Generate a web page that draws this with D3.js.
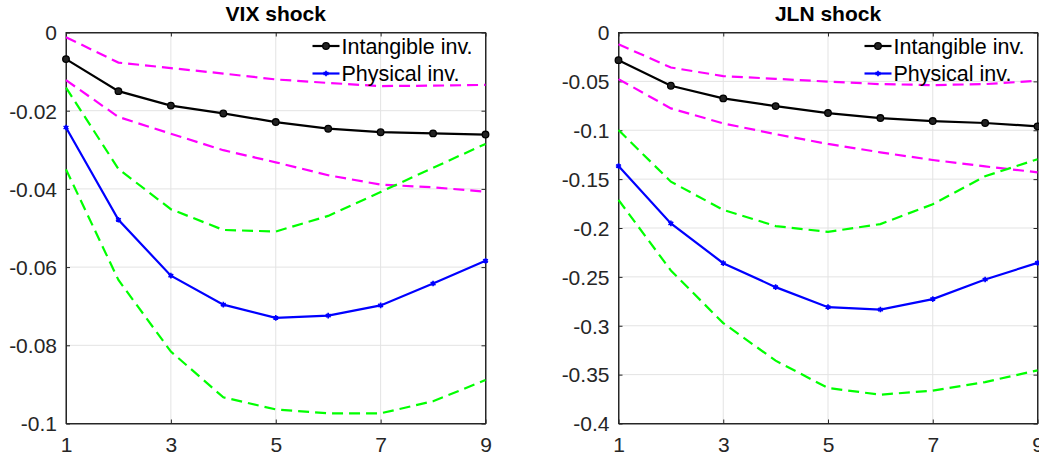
<!DOCTYPE html>
<html>
<head>
<meta charset="utf-8">
<script src="https://cdn.jsdelivr.net/npm/d3@7"></script>
<style>
  html, body { margin: 0; padding: 0; background: #fff; }
  svg { display: block; font-family: "Liberation Sans", Arial, Helvetica, sans-serif; }
</style>
</head>
<body>
<svg id="chart" width="1039" height="455"></svg>
<script>
// ---- data ----
const horizons = [1, 2, 3, 4, 5, 6, 7, 8, 9];
const xTicks = [1, 3, 5, 7, 9];

const vixIntangible      = [-0.0068, -0.0150, -0.0187, -0.0207, -0.0229, -0.0246, -0.0255, -0.0258, -0.0261];
const vixPhysical        = [-0.0243, -0.0479, -0.0622, -0.0696, -0.0730, -0.0724, -0.0698, -0.0642, -0.0584];
const vixIntangibleUpper = [-0.0012, -0.0077, -0.0091, -0.0105, -0.0120, -0.0129, -0.0137, -0.0136, -0.0134];
const vixIntangibleLower = [-0.0122, -0.0216, -0.0259, -0.0301, -0.0332, -0.0365, -0.0389, -0.0396, -0.0407];
const vixPhysicalUpper   = [-0.0141, -0.0349, -0.0452, -0.0505, -0.0509, -0.0469, -0.0408, -0.0346, -0.0285];
const vixPhysicalLower   = [-0.0350, -0.0633, -0.0816, -0.0933, -0.0964, -0.0974, -0.0974, -0.0943, -0.0889];
const vixYTicks = [0, -0.02, -0.04, -0.06, -0.08, -0.1];
const vixYTickLabels = ["0", "-0.02", "-0.04", "-0.06", "-0.08", "-0.1"];

const jlnIntangible      = [-0.0283, -0.0545, -0.0674, -0.0753, -0.0824, -0.0875, -0.0906, -0.0926, -0.0960];
const jlnPhysical        = [-0.1366, -0.1953, -0.2360, -0.2605, -0.2810, -0.2834, -0.2727, -0.2527, -0.2357];
const jlnIntangibleUpper = [-0.0120, -0.0358, -0.0446, -0.0474, -0.0502, -0.0528, -0.0538, -0.0528, -0.0494];
const jlnIntangibleLower = [-0.0477, -0.0776, -0.0930, -0.1040, -0.1140, -0.1226, -0.1304, -0.1370, -0.1430];
const jlnPhysicalUpper   = [-0.0998, -0.1526, -0.1815, -0.1980, -0.2040, -0.1960, -0.1757, -0.1470, -0.1297];
const jlnPhysicalLower   = [-0.1713, -0.2435, -0.2973, -0.3357, -0.3637, -0.3705, -0.3664, -0.3576, -0.3456];
const jlnYTicks = [0, -0.05, -0.1, -0.15, -0.2, -0.25, -0.3, -0.35, -0.4];
const jlnYTickLabels = ["0", "-0.05", "-0.1", "-0.15", "-0.2", "-0.25", "-0.3", "-0.35", "-0.4"];

const legendLabels = ["Intangible inv.", "Physical inv."];

// ---- drawing ----
const svg = d3.select("#chart");
const TXT = "#262626";

function panel(opts) {
  const { left, right, top, bottom, yMin, title, yTicks, yLabels, intang, phys, iu, il, pu, pl } = opts;
  const x = d3.scaleLinear().domain([1, 9]).range([left, right]);
  const y = d3.scaleLinear().domain([yMin, 0]).range([bottom, top]);
  const g = svg.append("g");

  // grid
  g.append("g").selectAll("line").data(xTicks).join("line")
    .attr("x1", d => x(d)).attr("x2", d => x(d)).attr("y1", top).attr("y2", bottom)
    .attr("stroke", "#e3e3e3").attr("stroke-width", 1);
  g.append("g").selectAll("line").data(yTicks).join("line")
    .attr("x1", left).attr("x2", right).attr("y1", d => y(d)).attr("y2", d => y(d))
    .attr("stroke", "#e3e3e3").attr("stroke-width", 1);

  // box
  g.append("rect").attr("x", left).attr("y", top).attr("width", right - left).attr("height", bottom - top)
    .attr("fill", "none").attr("stroke", TXT).attr("stroke-width", 1);

  // axes with inward ticks
  const tl = 4;
  const ax = d3.axisBottom(x).tickValues(xTicks).tickSizeInner(-tl).tickSizeOuter(0).tickPadding(14).tickFormat(d3.format("d"));
  const gx = g.append("g").attr("transform", `translate(0,${bottom})`).call(ax);
  const ay = d3.axisLeft(y).tickValues(yTicks).tickSizeInner(-tl).tickSizeOuter(0).tickPadding(9)
    .tickFormat((d, i) => yLabels[i]);
  const gy = g.append("g").attr("transform", `translate(${left},0)`).call(ay);
  // mirrored ticks
  const ayR = d3.axisRight(y).tickValues(yTicks).tickSizeInner(-tl).tickSizeOuter(0).tickFormat("");
  const gyR = g.append("g").attr("transform", `translate(${right},0)`).call(ayR);
  const axT = d3.axisTop(x).tickValues(xTicks).tickSizeInner(-tl).tickSizeOuter(0).tickFormat("");
  const gxT = g.append("g").attr("transform", `translate(0,${top})`).call(axT);
  [gx, gy, gyR, gxT].forEach(a => {
    a.select(".domain").attr("stroke", TXT);
    a.selectAll(".tick line").attr("stroke", TXT);
    a.selectAll(".tick text").attr("fill", TXT).style("font-size", "21px")
      .style("font-family", '"Liberation Sans", Arial, Helvetica, sans-serif');
  });
  gx.selectAll(".tick text").attr("dy", "0.71em");
  gy.selectAll(".tick text").attr("dy", "0.35em");

  // title
  g.append("text").attr("x", (left + right) / 2).attr("y", 21).attr("text-anchor", "middle")
    .style("font-size", "21px").style("font-weight", "bold").attr("fill", "#000").text(title);

  const line = d3.line().x((d, i) => x(horizons[i])).y(d => y(d));
  const dashed = [[iu, "#ff00ff"], [il, "#ff00ff"], [pu, "#00ff00"], [pl, "#00ff00"]];
  dashed.forEach(([arr, col]) => {
    g.append("path").datum(arr).attr("d", line).attr("fill", "none")
      .attr("stroke", col).attr("stroke-width", 2.2).attr("stroke-dasharray", "11,6");
  });

  g.append("path").datum(intang).attr("d", line).attr("fill", "none").attr("stroke", "#000").attr("stroke-width", 2.2);
  g.append("g").selectAll("circle").data(intang).join("circle")
    .attr("cx", (d, i) => x(horizons[i])).attr("cy", d => y(d)).attr("r", 3.3)
    .attr("fill", "#222").attr("stroke", "#000").attr("stroke-width", 1.3);

  g.append("path").datum(phys).attr("d", line).attr("fill", "none").attr("stroke", "#0000ff").attr("stroke-width", 2.2);
  const star = d3.symbol().type(d3.symbolAsterisk).size(22);
  g.append("g").selectAll("path").data(phys).join("path")
    .attr("transform", (d, i) => `translate(${x(horizons[i])},${y(d)})`).attr("d", star)
    .attr("fill", "none").attr("stroke", "#0000ff").attr("stroke-width", 1.6);
  g.append("g").selectAll("circle").data(phys).join("circle")
    .attr("cx", (d, i) => x(horizons[i])).attr("cy", d => y(d)).attr("r", 2)
    .attr("fill", "#0000ff");

  // legend (transparent, no box)
  const lx = right - 173;
  const rows = [[46, "#000", "circle"], [73.5, "#0000ff", "star"]];
  rows.forEach(([ly, col, mk], i) => {
    g.append("line").attr("x1", lx).attr("x2", lx + 27).attr("y1", ly).attr("y2", ly)
      .attr("stroke", col).attr("stroke-width", 2.2);
    if (mk === "circle") {
      g.append("circle").attr("cx", lx + 13.5).attr("cy", ly).attr("r", 3.3)
        .attr("fill", "#222").attr("stroke", "#000").attr("stroke-width", 1.3);
    } else {
      g.append("path").attr("transform", `translate(${lx + 13.5},${ly})`).attr("d", star)
        .attr("fill", "none").attr("stroke", col).attr("stroke-width", 1.6);
      g.append("circle").attr("cx", lx + 13.5).attr("cy", ly).attr("r", 2).attr("fill", col);
    }
    g.append("text").attr("x", lx + 29).attr("y", ly).attr("dy", "0.36em")
      .style("font-size", "21.5px").attr("fill", "#000").text(legendLabels[i]);
  });
}

panel({ left: 66, right: 485.5, top: 32.5, bottom: 423.5, yMin: -0.1, title: "VIX shock",
  yTicks: vixYTicks, yLabels: vixYTickLabels,
  intang: vixIntangible, phys: vixPhysical, iu: vixIntangibleUpper, il: vixIntangibleLower,
  pu: vixPhysicalUpper, pl: vixPhysicalLower });

panel({ left: 618.5, right: 1037.5, top: 32.5, bottom: 423.5, yMin: -0.4, title: "JLN shock",
  yTicks: jlnYTicks, yLabels: jlnYTickLabels,
  intang: jlnIntangible, phys: jlnPhysical, iu: jlnIntangibleUpper, il: jlnIntangibleLower,
  pu: jlnPhysicalUpper, pl: jlnPhysicalLower });
</script>
</body>
</html>
